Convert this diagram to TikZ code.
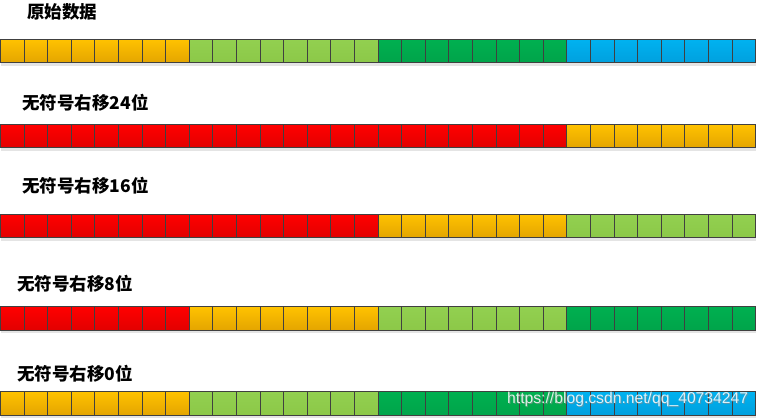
\documentclass[tikz,border=0pt]{standalone}
\usepackage{fontspec}
\setmainfont{Liberation Sans}
\newfontfamily\cjk{Noto Sans CJK SC}
\definecolor{cellline}{RGB}{64,64,64}
\definecolor{orgT}{RGB}{255,194,0}
\definecolor{orgB}{RGB}{228,165,0}
\definecolor{redT}{RGB}{255,0,0}
\definecolor{redB}{RGB}{226,0,0}
\definecolor{lgrT}{RGB}{146,208,80}
\definecolor{lgrB}{RGB}{140,200,72}
\definecolor{dgrT}{RGB}{0,176,80}
\definecolor{dgrB}{RGB}{0,164,74}
\definecolor{bluT}{RGB}{0,178,240}
\definecolor{bluB}{RGB}{0,160,222}
\definecolor{shadowgray}{RGB}{228,228,228}
\tikzset{
  cell/.style={draw=cellline, line width=0.9pt, minimum width=23.6pt, minimum height=23.4pt,
    inner sep=0pt, outer sep=0pt, anchor=north west},
  org/.style={cell, top color=orgT, bottom color=orgB},
  red/.style={cell, top color=redT, bottom color=redB},
  lgr/.style={cell, top color=lgrT, bottom color=lgrB},
  dgr/.style={cell, top color=dgrT, bottom color=dgrB},
  blu/.style={cell, top color=bluT, bottom color=bluB},
  rowlabel/.style={anchor=west, inner sep=0pt, font=\cjk\bfseries\fontsize{17.5}{20}\selectfont},
  watermark/.style={anchor=west, inner sep=0pt, font=\fontsize{15.7}{18}\selectfont}
}
\newcommand\bitrow[3]{%
  \fill[shadowgray] (0.5,#2+23.4) rectangle (756,#2+26.5);
  \foreach \s [count=\g from 0] in {#3}{
    \foreach \k in {0,...,7}{
      \pgfmathsetmacro\xx{0.5+23.6*(8*\g+\k)}
      \pgfmathtruncatemacro\idx{8*\g+\k}
      \node[style=\s] (#1-\idx) at (\xx,#2) {};
    }}}
\begin{document}
\begin{tikzpicture}[x=1pt,y=-1pt]
\useasboundingbox[fill=white] (0,0) rectangle (760,418);
\node[rowlabel] (l0) at (27,12) {原始数据};
\bitrow{r0}{39.3}{org,lgr,dgr,blu}
\node[rowlabel] (l1) at (22,103) {无符号右移24位};
\bitrow{r1}{124.4}{red,red,red,org}
\node[rowlabel] (l2) at (22,186) {无符号右移16位};
\bitrow{r2}{214.2}{red,red,org,lgr}
\node[rowlabel] (l3) at (17,284) {无符号右移8位};
\bitrow{r3}{306.8}{red,org,lgr,dgr}
\node[rowlabel] (l4) at (17,374) {无符号右移0位};
\bitrow{r4}{391.6}{org,lgr,dgr,blu}
\node[watermark, text=black!45, opacity=0.6] (wms) at (508,400) {https://blog.csdn.net/qq\_40734247};
\node[watermark, text=white, opacity=0.85] (wm) at (507,399) {https://blog.csdn.net/qq\_40734247};
\end{tikzpicture}
\end{document}
